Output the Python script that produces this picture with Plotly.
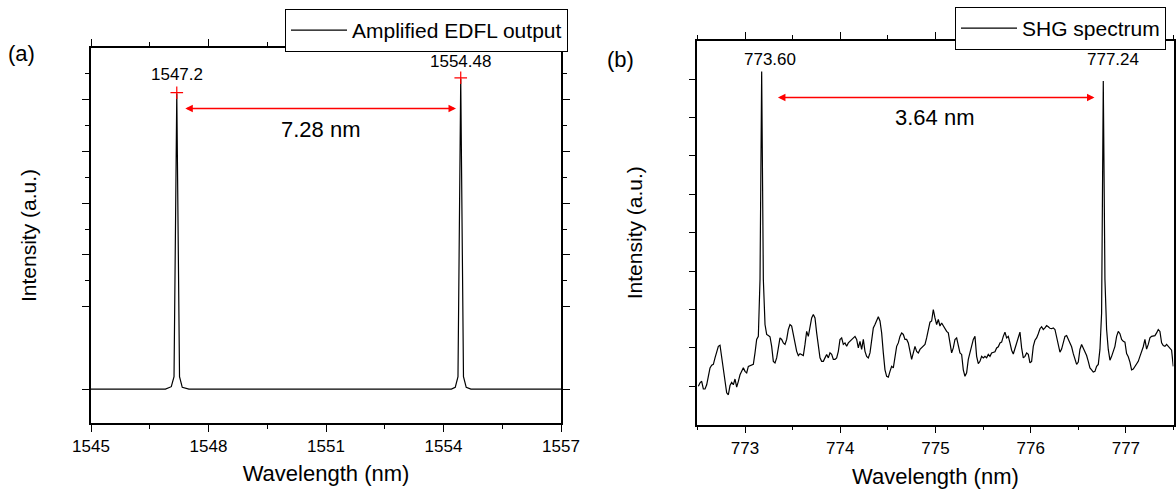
import numpy as np
import plotly.graph_objects as go

FONT = "Liberation Sans, Arial, sans-serif"

# ---- (a) amplified EDFL output ----
edfl_wl = [1545.0, 1546.9, 1547.05, 1547.12, 1547.19, 1547.26, 1547.33, 1547.5,
           1554.2, 1554.3, 1554.37, 1554.44, 1554.51, 1554.58, 1554.7, 1557.0]
edfl_int = [0.0, 0.0, 0.008, 0.04, 0.952, 0.04, 0.006, 0.0,
            0.0, 0.006, 0.04, 1.0, 0.04, 0.006, 0.0, 0.0]
edfl_peak_wl = [1547.19, 1554.44]
edfl_peak_int = [0.955, 1.003]
edfl_peak_labels = ["1547.2", "1554.48"]
edfl_gap = "7.28 nm"

# ---- (b) SHG spectrum (sampled on the spectrometer grid) ----
shg_start, shg_step = 772.51, 0.0175
shg_int = [
    1.00, 1.09, 1.13, 0.93, 0.93, 1.04, 1.26, 1.48, 1.55, 1.57,
    1.74, 1.87, 2.04, 2.07, 1.78, 1.43, 1.09, 0.83, 0.78, 1.02,
    1.10, 1.04, 1.19, 0.98, 1.13, 1.30, 1.39, 1.48, 1.39, 1.35,
    1.52, 1.54, 1.54, 1.57, 1.87, 2.22, 2.30, 3.78, 9.20, 3.78,
    2.61, 2.35, 2.32, 2.29, 2.04, 1.65, 1.61, 1.74, 2.00, 2.26,
    2.22, 2.13, 2.09, 2.22, 2.48, 2.61, 2.57, 2.30, 2.13, 1.91,
    1.80, 1.85, 1.83, 1.80, 2.09, 2.43, 2.30, 2.52, 2.78, 2.87,
    2.78, 2.39, 2.04, 1.74, 1.65, 1.65, 1.74, 1.83, 1.74, 1.87,
    1.83, 1.70, 1.70, 1.74, 1.91, 2.22, 2.26, 2.09, 2.13, 2.04,
    2.13, 2.17, 2.22, 2.26, 2.30, 2.22, 2.00, 2.17, 1.96, 2.22,
    1.91, 1.78, 1.74, 1.87, 2.22, 2.52, 2.61, 2.74, 2.81, 2.70,
    2.39, 1.87, 1.43, 1.26, 1.24, 1.39, 1.52, 1.48, 1.78, 2.04,
    2.13, 2.30, 2.39, 2.35, 2.22, 2.22, 2.13, 1.87, 1.70, 1.87,
    2.04, 1.91, 1.87, 1.96, 2.00, 2.04, 2.09, 2.26, 2.43, 2.67,
    2.70, 3.00, 2.78, 2.61, 2.74, 2.57, 2.65, 2.57, 2.48, 2.43,
    2.39, 2.09, 1.87, 2.00, 2.22, 2.26, 2.09, 1.87, 1.83, 1.43,
    1.26, 1.35, 1.70, 1.87, 2.09, 2.22, 2.30, 1.78, 1.59, 1.65,
    1.78, 1.74, 1.78, 1.74, 1.83, 1.78, 1.87, 1.89, 1.90, 2.00,
    2.03, 2.13, 2.15, 2.30, 2.41, 2.26, 2.30, 2.13, 1.94, 1.84,
    2.00, 2.15, 2.32, 2.41, 2.00, 1.74, 1.78, 1.87, 1.83, 1.61,
    1.65, 2.04, 2.20, 2.26, 2.37, 2.50, 2.55, 2.48, 2.52, 2.58,
    2.55, 2.51, 2.50, 2.52, 2.48, 2.26, 2.03, 1.89, 1.97, 2.17,
    2.30, 2.32, 2.23, 2.15, 2.03, 1.85, 1.68, 1.57, 1.63, 1.96,
    2.09, 2.00, 1.91, 1.80, 1.65, 1.48, 1.43, 1.37, 1.39, 1.52,
    1.57, 1.96, 2.91, 8.95, 3.78, 2.48, 1.96, 1.68, 1.78, 1.91,
    2.04, 2.30, 2.43, 2.37, 2.22, 2.17, 2.15, 1.85, 1.77, 1.63,
    1.43, 1.45, 1.52, 1.59, 1.65, 1.78, 1.89, 2.03, 2.22, 1.97,
    2.09, 2.26, 2.30, 2.32, 2.32, 2.39, 2.48, 2.43, 2.13, 2.06,
    2.04, 2.09, 2.04, 2.00, 1.94, 1.52,
]
shg_wl = np.round(shg_start + shg_step * np.arange(len(shg_int)), 4)
shg_label_wl = [773.26, 776.86]
shg_peak_labels = ["773.60", "777.24"]
shg_gap = "3.64 nm"

# pixel layout of the 1176x490 canvas
W, H = 1176, 490
def xd(a, b):
    return [a / W, b / W]
def yd(top, bottom):
    return [1 - bottom / H, 1 - top / H]

fig = go.Figure()

fig.add_trace(go.Scatter(x=edfl_wl, y=edfl_int, mode="lines", name="Amplified EDFL output",
                         line=dict(color="black", width=1.2), xaxis="x", yaxis="y",
                         legend="legend"))
fig.add_trace(go.Scatter(x=edfl_peak_wl, y=edfl_peak_int, mode="markers", showlegend=False,
                         marker=dict(symbol="cross-thin", size=9, line=dict(color="red", width=1.2)),
                         xaxis="x", yaxis="y"))
fig.add_trace(go.Scatter(x=shg_wl, y=shg_int, mode="lines", name="SHG spectrum",
                         line=dict(color="black", width=1.2), xaxis="x2", yaxis="y2",
                         legend="legend2"))

axis_common = dict(showline=True, linecolor="black", linewidth=1.5, mirror="ticks",
                   ticks="outside", tickcolor="black", tickwidth=1.2, showgrid=False,
                   zeroline=False, tickfont=dict(family=FONT, size=17, color="black"))

# left panel y ticks (unlabelled)
ly_top, ly_bot = 1.099, -0.109
ly_step = 0.0833
ly_major = [0.0] + [ly_top - k * ly_step for k in (2, 4, 6, 8, 10)]
ly_minor = [ly_top - k * ly_step for k in (1, 3, 5, 7, 9)]

fig.update_layout(
    width=W, height=H, margin=dict(l=0, r=0, t=0, b=0, autoexpand=False),
    paper_bgcolor="white", plot_bgcolor="white",
    font=dict(family=FONT, color="black"),
    xaxis=dict(axis_common, domain=xd(91, 561), range=[1545, 1557], tickvals=[1545, 1548, 1551, 1554, 1557],
               ticklen=7, minor=dict(tickvals=[1546.5, 1549.5, 1552.5, 1555.5], ticklen=4, ticks="outside"),
               title=dict(text="Wavelength (nm)", font=dict(family=FONT, size=22), standoff=10),
               anchor="y"),
    yaxis=dict(axis_common, domain=yd(48, 423), range=[ly_bot, ly_top], tickvals=ly_major,
               showticklabels=False, ticklen=7,
               minor=dict(tickvals=ly_minor, ticklen=4, ticks="outside"),
               title=dict(text="Intensity (a.u.)", font=dict(family=FONT, size=21), standoff=40),
               anchor="x"),
    xaxis2=dict(axis_common, domain=xd(697.4, 1173.5), range=[772.5, 777.5], tickvals=[773, 774, 775, 776, 777],
                ticklen=7, minor=dict(dtick=0.5, tick0=772.5, ticklen=4, ticks="outside"),
                title=dict(text="Wavelength (nm)", font=dict(family=FONT, size=22), standoff=12),
                anchor="y2"),
    yaxis2=dict(axis_common, domain=yd(40.7, 424.7), range=[0, 10], tickvals=[1, 2, 3, 4, 5, 6, 7, 8, 9],
                showticklabels=False, ticklen=7,
                title=dict(text="Intensity (a.u.)", font=dict(family=FONT, size=21), standoff=40),
                anchor="x2"),
    legend=dict(x=568 / W, y=1 - 9 / H, xanchor="right", yanchor="top", bgcolor="white",
                bordercolor="black", borderwidth=1, itemwidth=56,
                font=dict(family=FONT, size=21)),
    legend2=dict(x=955 / W, y=1 - 7 / H, xanchor="left", yanchor="top", bgcolor="white",
                 bordercolor="black", borderwidth=1, itemwidth=56,
                 font=dict(family=FONT, size=21)),
    showlegend=True,
)

# panel letters
fig.add_annotation(text="(a)", x=21 / W, y=1 - 54 / H, xref="paper", yref="paper",
                   xanchor="center", yanchor="middle",
                   showarrow=False, font=dict(family=FONT, size=22))
fig.add_annotation(text="(b)", x=620 / W, y=1 - 59 / H, xref="paper", yref="paper",
                   xanchor="center", yanchor="middle",
                   showarrow=False, font=dict(family=FONT, size=22))

# (a) peak labels, spacing arrow
for wl, h, lab in zip(edfl_peak_wl, [1.013, 1.054], edfl_peak_labels):
    fig.add_annotation(text=lab, x=wl, y=h, xref="x", yref="y",
                       showarrow=False, font=dict(family=FONT, size=17))
fig.add_annotation(x=1554.32, y=0.904, ax=1547.37, ay=0.904,
                   xref="x", yref="y", axref="x", ayref="y", text="", showarrow=True,
                   arrowhead=2, arrowside="end+start", arrowsize=1, arrowwidth=1.5, arrowcolor="red")
fig.add_annotation(text=edfl_gap, x=1550.87, y=0.837, xref="x", yref="y", showarrow=False,
                   font=dict(family=FONT, size=22))

# (b) peak labels, spacing arrow
for wl, lab in zip(shg_label_wl, shg_peak_labels):
    fig.add_annotation(text=lab, x=wl, y=9.5, xref="x2", yref="y2", showarrow=False,
                       font=dict(family=FONT, size=17))
fig.add_annotation(x=776.67, y=8.52, ax=773.33, ay=8.52, xref="x2", yref="y2", axref="x2", ayref="y2",
                   text="", showarrow=True, arrowhead=2, arrowside="end+start", arrowsize=1,
                   arrowwidth=1.5, arrowcolor="red")
fig.add_annotation(text=shg_gap, x=775.0, y=8.01, xref="x2", yref="y2", showarrow=False,
                   font=dict(family=FONT, size=22))

# page body has a default 8px margin; remove it so the figure sits at the window origin
fig.write_html("out.html", config={"displayModeBar": False},
               post_script="document.body.style.margin='0';")
